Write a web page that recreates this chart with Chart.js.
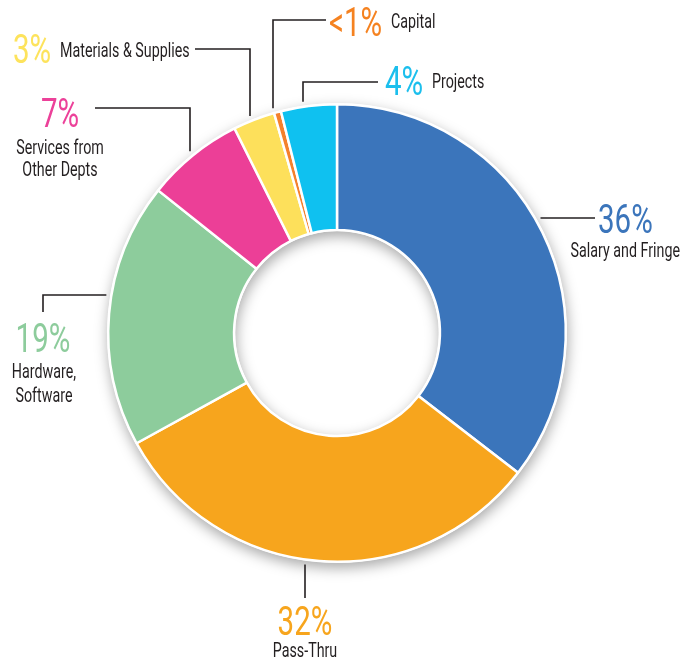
<!DOCTYPE html>
<html>
<head>
<meta charset="utf-8">
<script src="https://cdn.jsdelivr.net/npm/chart.js@4/dist/chart.umd.min.js"></script>
<style>
  html, body { margin: 0; padding: 0; background: #fff; }
  #wrap { width: 685px; height: 664px; position: relative; }
</style>
</head>
<body>
<div id="wrap"><canvas id="budget"></canvas></div>
<script>
// budget split, clockwise from 12 o'clock
const categories = ['Salary and Fringe', 'Pass-Thru', ['Hardware,', 'Software'], ['Services from', 'Other Depts'], 'Materials & Supplies', 'Capital', 'Projects'];
const shares = [36, 32, 19, 7, 3, 0.5, 4];
const shareLabels = ['36%', '32%', '19%', '7%', '3%', '<1%', '4%'];
const sliceColors = ['#3b75bb', '#f7a51d', '#8dcc9c', '#ec3f97', '#fde05b', '#f4812c', '#0fc1f0'];
const pctColors = ['#3b75bb', '#f7a51d', '#8dcc9c', '#ec4199', '#fde35c', '#f58220', '#1cbfed'];

const TEXT = '#231f20';
const GAP = 5; // leader lines stop just short of the ring

// callout placement: pct text, name text, and leader path (last leg runs to the ring)
const callouts = [
  { pct: [598, 233, 'left'],   name: [680, 257, 'right'],  lh: 22, path: [[595, 218]], leg: 'h' },
  { pct: [305, 635, 'center'], name: [305, 657, 'center'], lh: 22, path: [[305, 598]], leg: 'v' },
  { pct: [43, 352, 'center'],  name: [44, 378, 'center'],  lh: 24, path: [[43, 312], [43, 295]], leg: 'h' },
  { pct: [60, 127, 'center'],  name: [60, 154, 'center'],  lh: 22, path: [[95, 108], [190, 108]], leg: 'v' },
  { pct: [13, 63, 'left'],     name: [60, 57, 'left'],     lh: 22, path: [[195, 49], [250, 49]], leg: 'v' },
  { pct: [329, 36, 'left'],    name: [391, 28, 'left'],    lh: 22, path: [[326, 20], [273, 20]], leg: 'v' },
  { pct: [385, 95, 'left'],    name: [432, 88, 'left'],    lh: 22, path: [[378, 82], [303, 82]], leg: 'v' },
];

// canvas has no condensed face here, so squeeze a regular one
function squeezedText(ctx, text, x, y, size, squeeze, color, align) {
  ctx.save();
  ctx.translate(x, y);
  ctx.scale(squeeze, 1);
  ctx.font = `400 ${size}px Roboto, "Liberation Sans", sans-serif`;
  ctx.fillStyle = color;
  ctx.textAlign = align;
  ctx.textBaseline = 'alphabetic';
  ctx.fillText(text, 0, 0);
  ctx.restore();
}

// soft drop shadow under the whole ring, drawn once before the slices
const ringShadow = {
  id: 'ringShadow',
  beforeDatasetsDraw(chart) {
    const arc = chart.getDatasetMeta(0).data[0];
    if (!arc) return;
    const { x, y, outerRadius, innerRadius } = arc.getProps(['x', 'y', 'outerRadius', 'innerRadius'], true);
    const ctx = chart.ctx;
    ctx.save();
    ctx.shadowColor = 'rgba(0,0,0,0.35)';
    ctx.shadowBlur = 14;
    ctx.shadowOffsetX = 1;
    ctx.shadowOffsetY = 5;
    ctx.fillStyle = '#fff';
    ctx.beginPath();
    ctx.arc(x, y, outerRadius + 1, 0, Math.PI * 2);
    ctx.arc(x, y, innerRadius - 1, 0, Math.PI * 2, true);
    ctx.fill('evenodd');
    ctx.restore();
  }
};

// percentages, names and leader lines
const calloutPlugin = {
  id: 'callouts',
  afterDatasetsDraw(chart) {
    const arc = chart.getDatasetMeta(0).data[0];
    if (!arc) return;
    const { x: cx, y: cy, outerRadius } = arc.getProps(['x', 'y', 'outerRadius'], true);
    const r = outerRadius + GAP;
    const ctx = chart.ctx;

    callouts.forEach((c, i) => {
      const pts = c.path.slice();
      const last = pts[pts.length - 1];
      if (c.leg === 'v') {
        const h = Math.sqrt(Math.max(r * r - (last[0] - cx) ** 2, 0));
        pts.push([last[0], last[1] < cy ? cy - h : cy + h]);
      } else {
        const w = Math.sqrt(Math.max(r * r - (last[1] - cy) ** 2, 0));
        pts.push([last[0] < cx ? cx - w : cx + w, last[1]]);
      }
      ctx.save();
      ctx.strokeStyle = TEXT;
      ctx.lineWidth = 1.6;
      ctx.beginPath();
      pts.forEach((p, k) => k ? ctx.lineTo(p[0], p[1]) : ctx.moveTo(p[0], p[1]));
      ctx.stroke();
      ctx.restore();

      squeezedText(ctx, shareLabels[i], c.pct[0], c.pct[1], 41, 0.72, pctColors[i], c.pct[2]);
      const lines = [].concat(categories[i]);
      lines.forEach((t, k) => squeezedText(ctx, t, c.name[0], c.name[1] + k * c.lh, 21, 0.68, TEXT, c.name[2]));
    });
  }
};

new Chart(document.getElementById('budget'), {
  type: 'doughnut',
  data: {
    labels: categories,
    datasets: [{
      data: shares,
      backgroundColor: sliceColors,
      borderColor: '#fff',
      borderWidth: 2.5,
      hoverOffset: 0,
    }]
  },
  options: {
    responsive: true,
    maintainAspectRatio: false,
    animation: false,
    cutout: '45%',
    layout: { padding: { left: 107, top: 103, right: 118, bottom: 101 } },
    plugins: {
      legend: { display: false },
      tooltip: { enabled: false },
    },
  },
  plugins: [ringShadow, calloutPlugin],
});
</script>
</body>
</html>
